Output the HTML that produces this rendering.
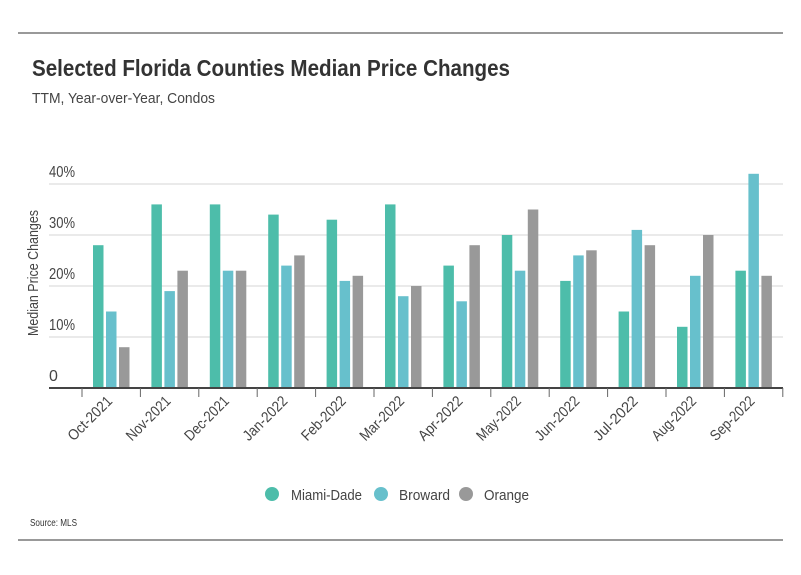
<!DOCTYPE html>
<html><head><meta charset="utf-8"><style>
body{margin:0;background:#fff;}
svg{display:block;font-family:"Liberation Sans Narrow","Liberation Sans",sans-serif;}
</style></head><body>
<svg width="801" height="575">
<line x1="18" y1="33" x2="783" y2="33" stroke="#333" stroke-width="1"/>
<text x="32" y="76" font-size="23" font-weight="bold" fill="#333" textLength="478" lengthAdjust="spacingAndGlyphs">Selected Florida Counties Median Price Changes</text>
<text x="32" y="103" font-size="15" fill="#444" textLength="183" lengthAdjust="spacingAndGlyphs">TTM, Year-over-Year, Condos</text>
<g id="grid"></g>
<g id="bars"></g>
<g id="xaxis"></g>
<text transform="translate(38,273) rotate(-90)" text-anchor="middle" font-size="15" fill="#444" textLength="126" lengthAdjust="spacingAndGlyphs">Median Price Changes</text>
<g>
<g><circle cx="272" cy="494" r="7" fill="#4dbdaa"/><text x="291" y="500" font-size="15" fill="#444" textLength="71" lengthAdjust="spacingAndGlyphs">Miami-Dade</text></g>
<g><circle cx="381" cy="494" r="7" fill="#67c0cc"/><text x="399" y="500" font-size="15" fill="#444" textLength="51" lengthAdjust="spacingAndGlyphs">Broward</text></g>
<g><circle cx="466" cy="494" r="7" fill="#999"/><text x="484" y="500" font-size="15" fill="#444" textLength="45" lengthAdjust="spacingAndGlyphs">Orange</text></g>
</g>
<text x="30" y="526" font-size="10" fill="#333" textLength="47" lengthAdjust="spacingAndGlyphs">Source:  MLS</text>
<line x1="18" y1="540" x2="783" y2="540" stroke="#333" stroke-width="1"/>
</svg>
<script>
const categories=["Oct-2021","Nov-2021","Dec-2021","Jan-2022","Feb-2022","Mar-2022","Apr-2022","May-2022","Jun-2022","Jul-2022","Aug-2022","Sep-2022"];
const miamiDade=[28,36,36,34,33,36,24,30,21,15,12,23];
const broward=[15,19,23,24,21,18,17,23,26,31,22,42];
const orange=[8,23,23,26,22,20,28,35,27,28,30,22];
const yTicks=[0,10,20,30,40];
const yTickLabels=["0","10%","20%","30%","40%"];
const NS="http://www.w3.org/2000/svg";
const y0=388,pxPer=5.1,bandStart=82,bandW=58.4;
const y=v=>y0-v*pxPer;
const x=i=>bandStart+i*bandW;
function mk(t,a,p){const e=document.createElementNS(NS,t);for(const k in a)e.setAttribute(k,a[k]);p.appendChild(e);return e;}
const grid=document.getElementById('grid');
yTicks.forEach((t,i)=>{
 if(t>0){const l=mk('line',{x1:49,x2:783,y1:y(t),y2:y(t),stroke:'#d6d6d6','stroke-width':1},grid);
 
 }
 const a={x:49,y:y(t)-7,'font-size':16,fill:'#444'};
 if(t>0){a.textLength=26;a.lengthAdjust='spacingAndGlyphs';}
 const tx=mk('text',a,grid);tx.textContent=yTickLabels[i];
 
 
});
const bars=document.getElementById('bars');
const series=[[miamiDade,'#4dbdaa','miami-dade',11],[broward,'#67c0cc','broward',24],[orange,'#999999','orange',37]];
categories.forEach((c,i)=>{
 series.forEach(s=>{
  const v=s[0][i];
  const r=mk('rect',{x:x(i)+s[3],y:y(v),width:10.5,height:y0-y(v),fill:s[1]},bars);
  
  
 });
});
const xa=document.getElementById('xaxis');
const ax=mk('line',{x1:49,x2:783,y1:y0,y2:y0,stroke:'#444','stroke-width':2},xa);


categories.forEach((c,i)=>{
 const tk=mk('line',{x1:x(i),x2:x(i),y1:y0,y2:y0+9,stroke:'#666','stroke-width':1},xa);
 
 
 const cx=x(i)+bandW/2+2;
 const t=mk('text',{transform:`translate(${cx},${y0+14}) rotate(-45)`,'text-anchor':'end','font-size':15,fill:'#444',textLength:56,lengthAdjust:'spacingAndGlyphs'},xa);
 t.textContent=c;
 
 
});
const tkl=mk('line',{x1:x(12),x2:x(12),y1:y0,y2:y0+9,stroke:'#666','stroke-width':1},xa);


</script>
</body></html>
